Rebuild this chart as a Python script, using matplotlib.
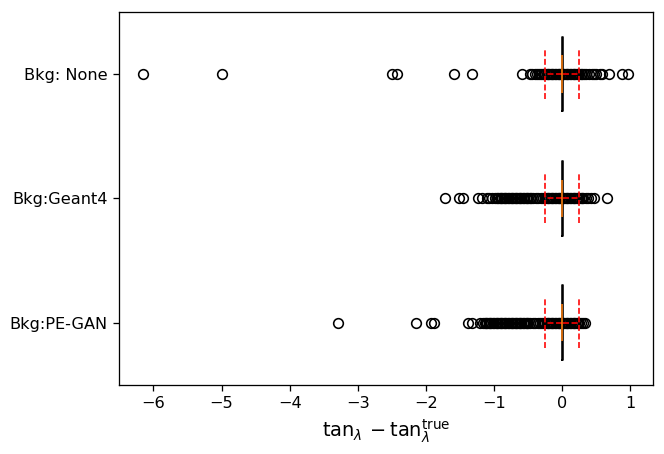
import matplotlib
matplotlib.use('Agg')
import matplotlib.pyplot as plt

labels = ['Bkg:PE-GAN', 'Bkg:Geant4', 'Bkg: None']

# residuals (outer points + dense core)
core = [-0.25, -0.23, -0.21, -0.19, -0.17, -0.15, -0.13, -0.11, -0.09, -0.07,
        -0.05, -0.03, -0.01, 0.01, 0.03, 0.05, 0.07, 0.09, 0.11, 0.13,
        0.15, 0.17, 0.19, 0.21, 0.23, 0.25]

pts_pegan = [-3.29, -2.15, -1.93, -1.88, -1.38, -1.33, -1.21, -1.17, -1.14,
             -1.12, -1.10, -1.08, -1.06, -1.04, -1.02, -1.00, -0.98, -0.96, -0.94,
             -0.92, -0.90, -0.88, -0.86, -0.84, -0.82, -0.80, -0.78, -0.76, -0.74,
             -0.72, -0.70, -0.68, -0.66, -0.64, -0.62, -0.60, -0.58, -0.56, -0.54,
             -0.52, -0.50, -0.47, -0.43, -0.40, -0.36, -0.33, -0.30, -0.27,
             0.27, 0.30, 0.33] + core
pts_geant4 = [-1.72, -1.51, -1.46, -1.24, -1.18, -1.11, -1.07, -1.03, -0.99,
              -0.96, -0.94, -0.92, -0.90, -0.88, -0.86, -0.84, -0.82, -0.80, -0.78,
              -0.76, -0.74, -0.72, -0.70, -0.68, -0.66, -0.64, -0.62, -0.60, -0.58,
              -0.56, -0.54, -0.52, -0.50, -0.48, -0.46, -0.43, -0.39, -0.35, -0.31,
              -0.28, 0.27, 0.29, 0.31, 0.35, 0.38, 0.42, 0.46, 0.66] + core
pts_none = [-6.15, -4.99, -2.50, -2.42, -1.59, -1.33, -0.59, -0.47, -0.44, -0.40,
            -0.37, -0.34, -0.31, -0.29, -0.27, 0.27, 0.29, 0.32, 0.35, 0.39,
            0.44, 0.47, 0.50, 0.55, 0.58, 0.68, 0.88, 0.97] + core

medians = [0.0, 0.0, 0.0]
q1 = [-0.005, -0.005, -0.005]
q3 = [0.005, 0.005, 0.005]
whislo = [-0.25, -0.25, -0.25]
whishi = [0.25, 0.25, 0.25]
points = [pts_pegan, pts_geant4, pts_none]

stats = []
for i in range(3):
    stats.append({'med': medians[i], 'q1': q1[i], 'q3': q3[i],
                  'whislo': whislo[i], 'whishi': whishi[i],
                  'fliers': points[i], 'label': labels[i]})

fig = plt.figure(figsize=(664 / 116, 454 / 116), dpi=116)
ax = fig.add_axes([0.1792, 0.152, 0.8038, 0.822])

pos = [1, 2, 3]
ax.bxp(stats, positions=pos, vert=False, widths=0.6, capwidths=0.4,
       boxprops=dict(color='k', linewidth=1),
       whiskerprops=dict(color='r', linestyle='--', linewidth=1),
       capprops=dict(color='r', linestyle='--', linewidth=1),
       medianprops=dict(visible=False),
       flierprops=dict(marker='o', markerfacecolor='none', markeredgecolor='k',
                       markersize=6, zorder=1.5))
ax.vlines(medians, [p - 0.15 for p in pos], [p + 0.15 for p in pos],
          color='C1', linewidth=1, zorder=3)

ax.set_ylim(0.5, 3.5)
ax.margins(x=0.05)
ax.set_xticks([-6, -5, -4, -3, -2, -1, 0, 1])
ax.set_xlabel(r'$\tan_{\lambda} - \tan_{\lambda}^{\rm true}$', fontsize=12)

fig.savefig('out.png', dpi=116)
